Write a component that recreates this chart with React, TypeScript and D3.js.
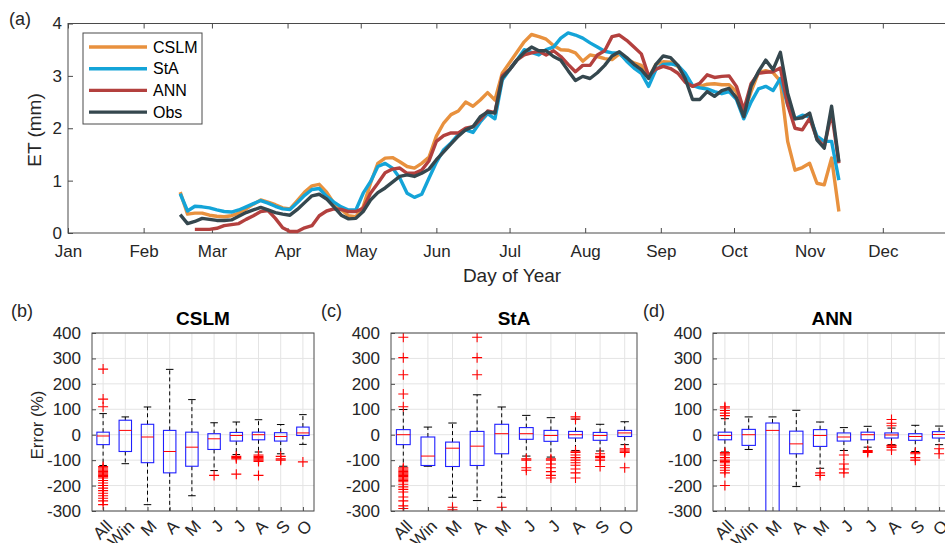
import React, { useEffect, useRef } from 'react';
import { axisBottom, axisLeft, axisTop, line, scaleLinear, select } from 'd3';

// ---- panel (a): daily ET, sampled every 3 days from day 47 ----
const startDay = 47;
const stepDays = 3;

const cslmEt = [
  0.78, 0.36, 0.38, 0.38, 0.34, 0.32, 0.31, 0.33, 0.38, 0.46, 0.55, 0.63, 0.59, 0.54, 0.48, 0.46,
  0.62, 0.78, 0.9, 0.93, 0.78, 0.57, 0.45, 0.33, 0.31, 0.5, 0.95, 1.33, 1.43, 1.44, 1.36, 1.27,
  1.24, 1.33, 1.45, 1.85, 2.1, 2.26, 2.33, 2.5, 2.42, 2.54, 2.68, 2.54, 3.05, 3.25, 3.45, 3.65,
  3.79, 3.75, 3.7, 3.58, 3.5, 3.49, 3.44, 3.28, 3.4, 3.37, 3.33, 3.31, 3.42, 3.31, 3.25, 3.2,
  2.96, 3.22, 3.27, 3.26, 3.18, 3.03, 2.8, 2.8, 2.84, 2.85, 2.83, 2.83, 2.7, 2.29, 2.7, 3.06,
  3.1, 3.06, 2.9, 1.75, 1.2, 1.25, 1.33, 0.95, 0.92, 1.43, 0.41,
];
const staEt = [
  0.75, 0.42, 0.51, 0.5, 0.48, 0.44, 0.41, 0.4, 0.44, 0.5, 0.56, 0.62, 0.57, 0.51, 0.46, 0.45,
  0.58, 0.72, 0.83, 0.85, 0.7, 0.59, 0.5, 0.44, 0.44, 0.76, 0.98, 1.27, 1.33, 1.24, 1.05, 0.76,
  0.68, 0.74, 1.05, 1.35, 1.59, 1.72, 1.88, 1.97, 1.92, 2.12, 2.28, 2.18, 2.92, 3.12, 3.3, 3.5,
  3.45, 3.4, 3.5, 3.55, 3.72, 3.82, 3.78, 3.72, 3.63, 3.55, 3.47, 3.44, 3.44, 3.28, 3.15, 3.05,
  2.8, 3.12, 3.22, 3.23, 3.2, 3.05, 2.82, 2.77, 2.75, 2.7, 2.66, 2.7, 2.55, 2.18, 2.5, 2.75,
  2.8, 2.72, 2.95, 2.45, 2.18, 2.25, 2.22, 1.85, 1.75, 1.75, 1.01,
];
const annEt = [
  null, null, 0.07, 0.07, 0.07, 0.09, 0.14, 0.16, 0.18, 0.26, 0.33, 0.41, 0.43, 0.28, 0.1, 0.03,
  0.03, 0.1, 0.14, 0.33, 0.42, 0.46, 0.45, 0.41, 0.41, 0.47, 0.76, 0.95, 1.15, 1.22, 1.24, 1.14,
  1.14, 1.2, 1.38, 1.75, 1.86, 1.91, 1.91, 2.0, 2.03, 2.16, 2.33, 2.3, 3.0, 3.12, 3.3, 3.4,
  3.44, 3.47, 3.4, 3.48, 3.37, 3.22, 3.08, 3.2, 3.2, 3.4, 3.48, 3.75, 3.78, 3.68, 3.55, 3.42,
  3.0, 3.13, 3.18, 3.14, 3.05, 2.88, 2.8, 2.86, 3.02, 2.97, 2.99, 3.0, 2.8, 2.35, 2.85, 3.05,
  3.07, 3.08, 3.15, 2.45, 2.0, 1.97, 2.19, 1.8, 1.65, 2.3, 1.33,
];
const obsEt = [
  0.35, 0.18, 0.22, 0.28, 0.26, 0.24, 0.24, 0.25, 0.32, 0.39, 0.44, 0.49, 0.44, 0.39, 0.36, 0.34,
  0.45, 0.58, 0.71, 0.74, 0.65, 0.5, 0.34, 0.27, 0.28, 0.41, 0.63, 0.77, 0.86, 0.97, 1.08, 1.11,
  1.08, 1.14, 1.22, 1.4, 1.55, 1.7, 1.85, 1.97, 2.03, 2.22, 2.31, 2.29, 2.96, 3.12, 3.3, 3.45,
  3.55, 3.48, 3.48, 3.37, 3.3, 3.1, 2.91, 2.99, 2.95, 3.06, 3.2, 3.38, 3.46, 3.35, 3.22, 3.12,
  2.95, 3.22, 3.38, 3.35, 3.2, 2.95, 2.55, 2.55, 2.7, 2.61, 2.72, 2.76, 2.58, 2.22, 2.8, 3.08,
  3.3, 3.12, 3.45, 2.67, 2.18, 2.2, 2.29, 1.78, 1.62, 2.42, 1.36,
];

const seriesNames = ['CSLM', 'StA', 'ANN', 'Obs'];
const seriesColors = ['#E8913E', '#14A4D8', '#B3403E', '#35474E'];

const monthDays = [1, 32, 60, 91, 121, 152, 182, 213, 244, 274, 305, 335];
const monthLabels = ['Jan', 'Feb', 'Mar', 'Apr', 'May', 'Jun', 'Jul', 'Aug', 'Sep', 'Oct', 'Nov', 'Dec'];
const etTicks = [0, 1, 2, 3, 4];

// ---- panels (b)-(d): error box plots ----
const boxCategories = ['All', 'Win', 'M', 'A', 'M', 'J', 'J', 'A', 'S', 'O'];
const errorTicks = [-300, -200, -100, 0, 100, 200, 300, 400];

// [lower whisker, q1, median, q3, upper whisker]
const cslmStats = [
  [-121, -39, -5, 10, 83],
  [-114, -66, 17, 57, 70],
  [-275, -110, -9, 41, 109],
  [-330, -150, -66, 17, 257],
  [-240, -124, -49, 10, 138],
  [-141, -58, -16, 4, 47],
  [-78, -25, -3, 9, 50],
  [-68, -20, 0, 10, 59],
  [-75, -25, -7, 8, 40],
  [-38, -3, 7, 30, 79],
];
const cslmOutliers = [
  [258, 140, 110, -125, -130, -135, -140, -145, -150, -155, -160, -165, -170, -180, -190, -200, -210, -220, -230, -240, -250, -260, -275],
  [],
  [],
  [],
  [],
  [-160],
  [-85, -90, -95, -155],
  [-80, -85, -90, -95, -100, -105, -160],
  [-85, -95, -100],
  [-107],
];

const staStats = [
  [-124, -39, 0, 20, 99],
  [-124, -121, -84, -9, 30],
  [-246, -125, -53, -29, 46],
  [-259, -121, -45, 13, 157],
  [-246, -75, 4, 41, 109],
  [-84, -18, 4, 28, 76],
  [-88, -26, -3, 17, 67],
  [-62, -13, 0, 13, 61],
  [-64, -22, -3, 9, 41],
  [-39, -7, 7, 17, 51],
];
const staOutliers = [
  [383, 303, 236, 160, 110, -130, -135, -140, -145, -150, -155, -160, -165, -170, -175, -180, -185, -195, -205, -215, -225, -245, -260, -280, -290],
  [],
  [-285, -295],
  [383, 303, 236],
  [-285],
  [-95, -100, -130, -140],
  [-95, -100, -115, -130, -145, -160, -170],
  [62, 70, -65, -70, -80, -90, -100, -110, -120, -135, -150, -170],
  [-75, -85, -90, -100, -125],
  [-55, -60, -65, -70, -130],
];

const annStats = [
  [-68, -20, -3, 10, 63],
  [-58, -42, 0, 21, 70],
  [-420, -380, 17, 46, 70],
  [-204, -75, -36, 14, 96],
  [-132, -46, -3, 20, 50],
  [-62, -25, -9, 7, 28],
  [-49, -20, 0, 10, 33],
  [-39, -13, -1, 7, 26],
  [-66, -22, -7, 4, 37],
  [-39, -13, 1, 12, 34],
];
const annOutliers = [
  [75, 85, 95, 105, 110, -70, -75, -80, -90, -100, -105, -110, -120, -130, -140, -150, -200],
  [],
  [],
  [],
  [-150, -160],
  [-80, -115, -135, -150],
  [-62, -66, -70],
  [35, 45, 60, -42, -45, -50, -60],
  [-70, -75, -90, -100],
  [-55, -75],
];

const FONT = "'Liberation Sans', Arial, Helvetica, sans-serif";
const TEXT = '#262626';
const AXIS = '#4a4a4a';
const GRID = '#e4e4e4';

const panels = [
  { id: 'b', tag: '(b)', title: 'CSLM', left: 92, right: 314, tagX: 11, stats: cslmStats, outliers: cslmOutliers, yLabel: true },
  { id: 'c', tag: '(c)', title: 'StA', left: 391, right: 637, tagX: 321, stats: staStats, outliers: staOutliers, yLabel: false },
  { id: 'd', tag: '(d)', title: 'ANN', left: 713, right: 951, tagX: 643, stats: annStats, outliers: annOutliers, yLabel: false },
];

const styleAxis = (g: any) => {
  g.select('.domain').remove();
  g.selectAll('.tick line').attr('stroke', AXIS);
  g.selectAll('.tick text').attr('fill', TEXT).attr('font-size', 17).attr('font-family', FONT);
  g.attr('font-family', FONT);
};

const App = () => {
  const ref = useRef<SVGSVGElement | null>(null);

  useEffect(() => {
    const svg = select(ref.current);
    svg.selectAll('*').remove();

    // ---------- panel (a) ----------
    const x = scaleLinear().domain([1, 365]).range([68, 956]);
    const y = scaleLinear().domain([0, 4]).range([233, 23.5]);
    const top = svg.append('g');

    top.append('rect').attr('x', 68).attr('y', 23.5).attr('width', 888).attr('height', 209.5)
      .attr('fill', '#fff').attr('stroke', AXIS).attr('stroke-width', 1);

    const xb = top.append('g').attr('transform', 'translate(0,233)')
      .call(axisBottom(x).tickValues(monthDays).tickFormat((_, i) => monthLabels[i]).tickSizeInner(-5).tickSizeOuter(0).tickPadding(12));
    styleAxis(xb);
    const xt = top.append('g').attr('transform', 'translate(0,23.5)')
      .call(axisTop(x).tickValues(monthDays).tickFormat(() => '').tickSizeInner(-5).tickSizeOuter(0));
    styleAxis(xt);
    const yl = top.append('g').attr('transform', 'translate(68,0)')
      .call(axisLeft(y).tickValues(etTicks).tickFormat((d) => String(d)).tickSizeInner(-5).tickSizeOuter(0).tickPadding(6));
    styleAxis(yl);

    top.append('text').attr('x', 512).attr('y', 282).attr('text-anchor', 'middle')
      .attr('font-size', 19).attr('font-family', FONT).attr('fill', TEXT).text('Day of Year');
    top.append('text').attr('transform', 'translate(41,130) rotate(-90)').attr('text-anchor', 'middle')
      .attr('font-size', 19).attr('font-family', FONT).attr('fill', TEXT).text('ET (mm)');
    top.append('text').attr('x', 9).attr('y', 25).attr('font-size', 18).attr('font-family', FONT)
      .attr('fill', TEXT).text('(a)');

    const etLine = line<number | null>()
      .defined((v) => v != null)
      .x((_, i) => x(startDay + i * stepDays))
      .y((v) => y(v as number));

    [cslmEt, staEt, annEt, obsEt].forEach((s, k) => {
      top.append('path').attr('d', etLine(s)).attr('fill', 'none').attr('stroke', seriesColors[k])
        .attr('stroke-width', 3.4).attr('stroke-linejoin', 'round').attr('stroke-linecap', 'butt');
    });

    // legend
    const lg = top.append('g');
    lg.append('rect').attr('x', 83).attr('y', 33).attr('width', 119).attr('height', 91)
      .attr('fill', '#fff').attr('stroke', AXIS).attr('stroke-width', 1);
    seriesNames.forEach((name, k) => {
      const ly = 47 + k * 21.7;
      lg.append('line').attr('x1', 89).attr('x2', 147).attr('y1', ly).attr('y2', ly)
        .attr('stroke', seriesColors[k]).attr('stroke-width', 3.4);
      lg.append('text').attr('x', 153).attr('y', ly).attr('dy', '0.36em').attr('font-size', 16)
        .attr('font-family', FONT).attr('fill', '#000').text(name);
    });

    // ---------- panels (b)-(d) ----------
    const yE = scaleLinear().domain([-300, 400]).range([511, 333]);

    panels.forEach((p) => {
      const xc = scaleLinear().domain([0.5, 10.5]).range([p.left, p.right]);
      const unit = xc(2) - xc(1);
      const g = svg.append('g');
      const w = p.right - p.left;

      g.append('clipPath').attr('id', `clip-${p.id}`).append('rect')
        .attr('x', p.left).attr('y', 333).attr('width', w).attr('height', 178);

      g.append('rect').attr('x', p.left).attr('y', 333).attr('width', w).attr('height', 178).attr('fill', '#fff');

      // grid
      const grid = g.append('g');
      boxCategories.forEach((_, i) => {
        grid.append('line').attr('x1', xc(i + 1)).attr('x2', xc(i + 1)).attr('y1', 333).attr('y2', 511)
          .attr('stroke', GRID).attr('stroke-width', 1);
      });
      errorTicks.forEach((t) => {
        grid.append('line').attr('x1', p.left).attr('x2', p.right).attr('y1', yE(t)).attr('y2', yE(t))
          .attr('stroke', GRID).attr('stroke-width', 1);
      });

      const marks = g.append('g').attr('clip-path', `url(#clip-${p.id})`);
      p.stats.forEach((s, i) => {
        const cx = xc(i + 1);
        const hw = unit * 0.28;
        const cw = unit * 0.17;
        const [lo, q1, med, q3, hi] = s;
        marks.append('line').attr('x1', cx).attr('x2', cx).attr('y1', yE(q3)).attr('y2', yE(hi))
          .attr('stroke', '#000').attr('stroke-dasharray', '4,3').attr('stroke-width', 1);
        marks.append('line').attr('x1', cx).attr('x2', cx).attr('y1', yE(q1)).attr('y2', yE(lo))
          .attr('stroke', '#000').attr('stroke-dasharray', '4,3').attr('stroke-width', 1);
        [lo, hi].forEach((v) => {
          marks.append('line').attr('x1', cx - cw).attr('x2', cx + cw).attr('y1', yE(v)).attr('y2', yE(v))
            .attr('stroke', '#000').attr('stroke-width', 1);
        });
        marks.append('rect').attr('x', cx - hw).attr('y', yE(q3)).attr('width', hw * 2)
          .attr('height', yE(q1) - yE(q3)).attr('fill', 'none').attr('stroke', '#1f1fff').attr('stroke-width', 1.1);
        marks.append('line').attr('x1', cx - hw).attr('x2', cx + hw).attr('y1', yE(med)).attr('y2', yE(med))
          .attr('stroke', '#ff0000').attr('stroke-width', 1);
        p.outliers[i].forEach((v) => {
          const oy = yE(v);
          marks.append('path').attr('d', `M${cx - 5},${oy}H${cx + 5}M${cx},${oy - 5}V${oy + 5}`)
            .attr('stroke', '#ff0000').attr('stroke-width', 1.1).attr('fill', 'none');
        });
      });

      g.append('rect').attr('x', p.left).attr('y', 333).attr('width', w).attr('height', 178)
        .attr('fill', 'none').attr('stroke', AXIS).attr('stroke-width', 1);

      const bx = g.append('g').attr('transform', 'translate(0,511)')
        .call(axisBottom(xc).tickValues(boxCategories.map((_, i) => i + 1)).tickFormat(() => '').tickSizeInner(-4).tickSizeOuter(0));
      styleAxis(bx);
      const ly = g.append('g').attr('transform', `translate(${p.left},0)`)
        .call(axisLeft(yE).tickValues(errorTicks).tickFormat((d) => String(d)).tickSizeInner(-4).tickSizeOuter(0).tickPadding(11));
      styleAxis(ly);

      boxCategories.forEach((c, i) => {
        g.append('text').attr('transform', `translate(${xc(i + 1) + 6},523) rotate(-45)`)
          .attr('text-anchor', 'end').attr('dy', '0.35em').attr('font-size', 17).attr('font-family', FONT)
          .attr('fill', TEXT).text(c);
      });

      g.append('text').attr('x', (p.left + Math.min(p.right, 945) + (p.id === 'd' ? 6 : 0)) / 2).attr('y', 325)
        .attr('text-anchor', 'middle').attr('font-size', 19).attr('font-weight', 'bold')
        .attr('font-family', FONT).attr('fill', '#000').text(p.title);
      g.append('text').attr('x', p.tagX).attr('y', 317).attr('font-size', 18).attr('font-family', FONT)
        .attr('fill', TEXT).text(p.tag);
      if (p.yLabel) {
        g.append('text').attr('transform', 'translate(43,425) rotate(-90)').attr('text-anchor', 'middle')
          .attr('font-size', 17).attr('font-family', FONT).attr('fill', TEXT).text('Error (%)');
      }
    });
  }, []);

  return (
    <svg
      ref={ref}
      width={945}
      height={543}
      style={{ position: 'fixed', left: 0, top: 0, background: '#fff', fontFamily: FONT }}
    />
  );
};

export default App;
